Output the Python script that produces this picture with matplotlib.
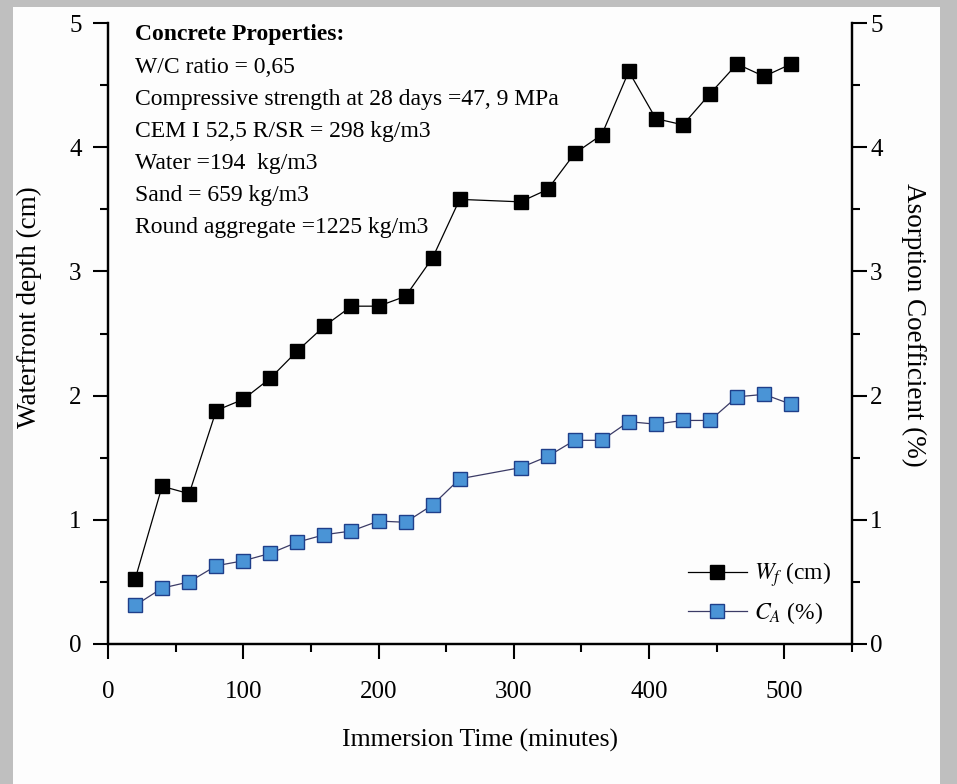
import numpy as np
import matplotlib
matplotlib.use("Agg")
import matplotlib.pyplot as plt
from matplotlib.patches import Rectangle
from matplotlib.ticker import MultipleLocator

# data
time_min = [20, 40, 60, 80, 100, 120, 140, 160, 180, 200, 220, 240, 260,
            305, 325, 345, 365, 385, 405, 425, 445, 465, 485, 505]
wf_cm = [0.52, 1.27, 1.21, 1.88, 1.97, 2.14, 2.36, 2.56, 2.72, 2.72, 2.80, 3.11, 3.58,
         3.56, 3.66, 3.95, 4.10, 4.61, 4.23, 4.18, 4.43, 4.67, 4.57, 4.67]
ca_pct = [0.31, 0.45, 0.50, 0.63, 0.67, 0.73, 0.82, 0.88, 0.91, 0.99, 0.98, 1.12, 1.33,
          1.42, 1.51, 1.64, 1.64, 1.79, 1.77, 1.80, 1.80, 1.99, 2.01, 1.93]
props = ["W/C ratio = 0,65",
         "Compressive strength at 28 days =47, 9 MPa",
         "CEM I 52,5 R/SR = 298 kg/m3",
         "Water =194  kg/m3",
         "Sand = 659 kg/m3",
         "Round aggregate =1225 kg/m3"]

plt.rcParams['font.family'] = ['Liberation Serif', 'DejaVu Serif']
plt.rcParams['mathtext.fontset'] = 'stix'

fig = plt.figure(figsize=(9.57, 7.84), dpi=100, facecolor='#bfbfbf')
# white page on the gray frame (background axes)
bg = fig.add_axes([0, 0, 1, 1], zorder=-10)
bg.set_axis_off()
bg.add_patch(Rectangle((13 / 957, 0), (940 - 13) / 957, 1 - 7 / 784,
                       transform=bg.transAxes, facecolor='#fdfdfd', edgecolor='none'))

ax = fig.add_axes([108 / 957, 1 - 644 / 784, 744 / 957, 621 / 784])
ax.set_facecolor('none')
ax2 = ax.twinx()

l1, = ax.plot(time_min, wf_cm, color='black', lw=0.9, marker='s', ms=10.5,
              mfc='black', mec='black', label=r'$W_f$ (cm)')
l2, = ax2.plot(time_min, ca_pct, color='#3b3b66', lw=0.9, marker='s', ms=10.5,
               mfc='#4a94d6', mec='#1f3f8a', mew=1.0, label=r'$C_A$ (%)')

for a in (ax, ax2):
    a.set_xlim(0, 550)
    a.set_ylim(0, 5)
    a.yaxis.set_major_locator(MultipleLocator(1))
    a.yaxis.set_minor_locator(MultipleLocator(0.5))
    a.spines['top'].set_visible(False)
    for s in ('left', 'right', 'bottom'):
        a.spines[s].set_linewidth(1.6)
    a.tick_params(which='major', direction='out', length=11, width=1.5, labelsize=18)
    a.tick_params(which='minor', direction='out', length=6, width=1.5)

ax.xaxis.set_major_locator(MultipleLocator(100))
ax.xaxis.set_minor_locator(MultipleLocator(50))
ax.tick_params(axis='x', pad=16)
ax.tick_params(axis='y', pad=8)
ax2.tick_params(axis='y', pad=2)

ax.set_xlabel("Immersion Time (minutes)", fontsize=18.5, labelpad=18)
ax.set_ylabel("Waterfront depth (cm)", fontsize=19.5, va='center')
ax.yaxis.set_label_coords(-0.105, 0.543)
ax2.set_ylabel("Asorption Coefficient (%)", fontsize=19.5, rotation=270, va='center')
ax2.yaxis.set_label_coords(1.083, 0.514)

ax.text(20, 4.91, "Concrete Properties:", fontsize=17, fontweight='bold', va='center')
for i, line in enumerate(props):
    ax.text(20, 4.64 - i * 0.258, line, fontsize=17, va='center')

leg = ax.legend(handles=[l1, l2], loc='lower right', bbox_to_anchor=(1.0, -0.005),
                frameon=False, fontsize=17, handlelength=2.5, labelspacing=0.45,
                handletextpad=0.3)

fig.savefig("out.png", dpi=100, facecolor=fig.get_facecolor())
